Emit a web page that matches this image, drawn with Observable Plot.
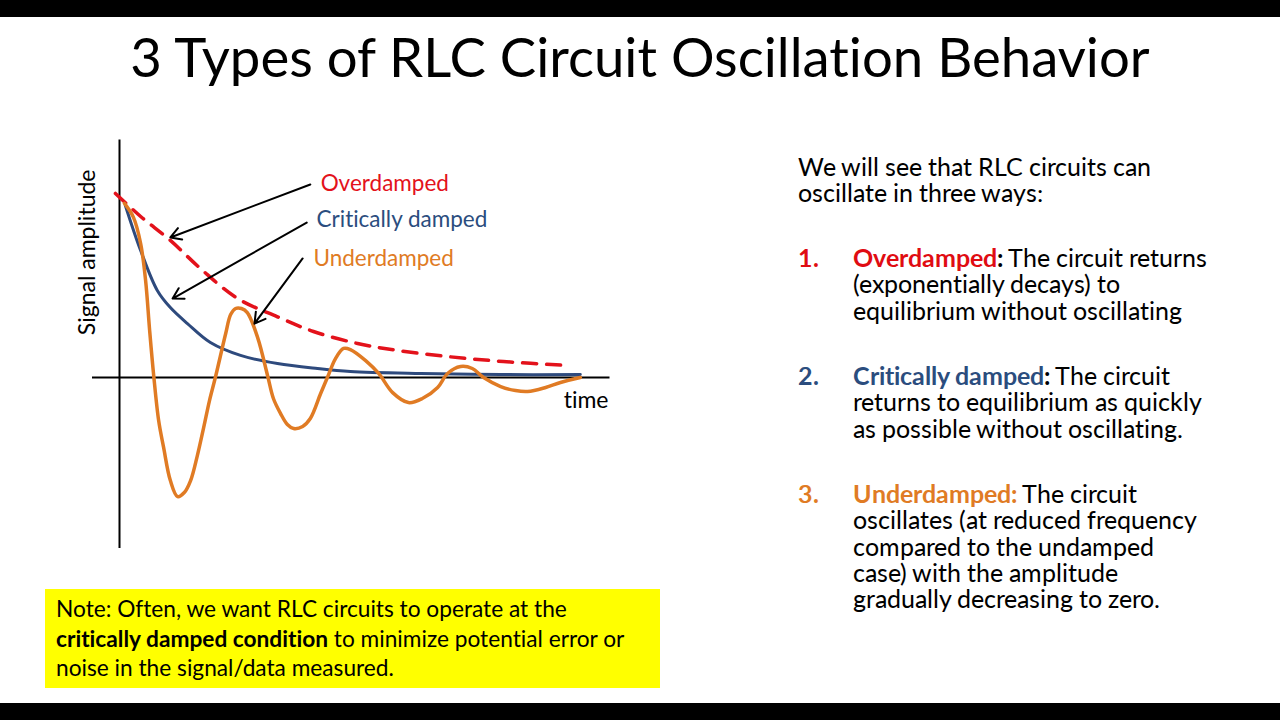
<!DOCTYPE html>
<html>
<head>
<meta charset="utf-8">
<script src="https://cdn.jsdelivr.net/npm/d3@7"></script>
<script src="https://cdn.jsdelivr.net/npm/@observablehq/plot@0.6"></script>
<style>
  @font-face { font-family: "LatoT"; src: local("Lato Regular"), local("Lato-Regular"), local("Lato"); font-weight: 400; ascent-override: 84%; descent-override: 16%; line-gap-override: 0%; }
  @font-face { font-family: "LatoT"; src: local("Lato Bold"), local("Lato-Bold"); font-weight: 700; ascent-override: 84%; descent-override: 16%; line-gap-override: 0%; }
  html, body { margin: 0; padding: 0; background: #fff; }
  body { width: 1280px; height: 720px; position: relative; overflow: hidden; font-family: Lato, "Open Sans", sans-serif; color: #000; font-variant-ligatures: none; }
  .bar { position: absolute; left: 0; width: 1280px; background: #000; }
  #title { position: absolute; left: 0; width: 1280px; top: 26px; line-height: 60px; text-align: center; font-size: 54.5px; }
  #chart { position: absolute; left: 60px; top: 120px; }
  .para, .num { font-family: LatoT, Lato, "Open Sans", sans-serif; }
  .para { position: absolute; font-size: 25px; line-height: 26.3px; white-space: nowrap; }
  .num { position: absolute; font-size: 25px; line-height: 26.3px; font-weight: bold; }
  #note { position: absolute; left: 45px; top: 589px; width: 615px; height: 99px; background: #ffff00; box-sizing: border-box; padding: 5px 0 0 11px; font-size: 22.7px; line-height: 29.5px; white-space: nowrap; }
  svg text { font-variant-ligatures: none; }
</style>
</head>
<body>
<div class="bar" style="top:0;height:17px"></div>
<div class="bar" style="top:703px;height:17px"></div>
<div id="title">3 Types of RLC Circuit Oscillation Behavior</div>
<div id="chart"></div>

<div class="para" style="left:798px;top:155px">We will see that RLC circuits can<br>oscillate in three ways:</div>

<div class="num" style="left:798px;top:246px;color:#e00c12">1.</div>
<div class="para" style="left:853px;top:246px"><b style="color:#e00c12">Overdamped</b><b>:</b> The circuit returns<br>(exponentially decays) to<br>equilibrium without oscillating</div>

<div class="num" style="left:798px;top:364px;color:#2b4d7e">2.</div>
<div class="para" style="left:853px;top:364px"><b style="color:#2b4d7e">Critically damped</b><b>:</b> The circuit<br>returns to equilibrium as quickly<br>as possible without oscillating.</div>

<div class="num" style="left:798px;top:482px;color:#e07b24">3.</div>
<div class="para" style="left:853px;top:482px"><b style="color:#e07b24">Underdamped:</b> The circuit<br>oscillates (at reduced frequency<br>compared to the undamped<br>case) with the amplitude<br>gradually decreasing to zero.</div>

<div id="note">Note: Often, we want RLC circuits to operate at the<br><b>critically damped condition</b> to minimize potential error or<br>noise in the signal/data measured.</div>

<script>
// ---- Data (time in arbitrary units, amplitude normalised) ----
const overT  = [-0.09, 0.47, 1.13, 1.80, 2.62, 3.51, 4.31, 5.29, 6.18, 7.29, 8.53, 9.98];
const overA  = [1.000, 0.875, 0.745, 0.592, 0.430, 0.330, 0.250, 0.185, 0.147, 0.114, 0.087, 0.065];

const critT  = [0.13, 0.47, 0.84, 1.13, 1.51, 2.02, 2.69, 3.51, 4.40, 5.13, 6.69, 8.47, 10.24];
const critA  = [0.935, 0.690, 0.473, 0.380, 0.293, 0.190, 0.120, 0.076, 0.049, 0.033, 0.022, 0.016, 0.016];

const underT = [0.11, 0.31, 0.47, 0.58, 0.67, 0.76, 0.87, 0.98, 1.13, 1.29, 1.44, 1.58, 1.73, 1.87, 2.00, 2.13, 2.36, 2.47, 2.58, 2.71, 2.84, 3.07, 3.29, 3.42, 3.58, 3.73, 3.87, 4.07, 4.24, 4.47, 4.62, 4.80, 4.98, 5.13, 5.47, 5.76, 6.07, 6.42, 6.73, 7.07, 7.29, 7.58, 7.84, 8.09, 8.47, 8.80, 9.07, 9.47, 9.80, 10.24];
const underA = [0.946, 0.870, 0.728, 0.527, 0.255, 0.011, -0.234, -0.380, -0.560, -0.647, -0.625, -0.560, -0.424, -0.272, -0.125, 0.000, 0.239, 0.342, 0.375, 0.375, 0.353, 0.217, 0.011, -0.114, -0.196, -0.255, -0.277, -0.266, -0.223, -0.087, 0.000, 0.103, 0.158, 0.152, 0.092, 0.022, -0.082, -0.136, -0.114, -0.054, 0.022, 0.060, 0.049, 0.000, -0.049, -0.071, -0.076, -0.054, -0.027, 0.000];

// curve labels and their arrows
const labelNames  = ["Overdamped", "Critically damped", "Underdamped"];
const labelColors = ["#e3121b", "#2b4d7e", "#e07b24"];
const labelT      = [4.47, 4.38, 4.31];
const labelA      = [1.054, 0.859, 0.647];
const arrowT1     = [4.24, 4.16, 4.07];
const arrowA1     = [1.049, 0.842, 0.647];
const arrowT2     = [1.13, 1.18, 3.00];
const arrowA2     = [0.761, 0.429, 0.293];

const xLabel = "time";
const yLabel = "Signal amplitude";

// ---- Build tables ----
const over  = overT.map((t, i) => ({t, a: overA[i]}));
const crit  = critT.map((t, i) => ({t, a: critA[i]}));
const under = underT.map((t, i) => ({t, a: underA[i]}));
const labels = labelNames.map((n, i) => ({n, c: labelColors[i], t: labelT[i], a: labelA[i]}));
const arrows = labelNames.map((n, i) => ({x1: arrowT1[i], y1: arrowA1[i], x2: arrowT2[i], y2: arrowA2[i]}));

const chart = Plot.plot({
  width: 580,
  height: 450,
  marginLeft: 32,
  marginRight: 30.5,
  marginTop: 19.6,
  marginBottom: 22,
  x: {domain: [-0.6, 10.9], axis: null},
  y: {domain: [-0.929, 1.29], axis: null},
  style: {fontFamily: "Lato, 'Open Sans', sans-serif", background: "transparent", overflow: "visible"},
  marks: [
    Plot.ruleX([0], {stroke: "#000", strokeWidth: 2}),
    Plot.ruleY([0], {stroke: "#000", strokeWidth: 2}),
    Plot.line(over,  {x: "t", y: "a", stroke: "#e3121b", strokeWidth: 3.5, strokeDasharray: "14,10", curve: "catmull-rom"}),
    Plot.line(crit,  {x: "t", y: "a", stroke: "#2e4a7d", strokeWidth: 3, curve: "catmull-rom"}),
    Plot.line(under, {x: "t", y: "a", stroke: "#e07b24", strokeWidth: 3.5, curve: "catmull-rom"}),
    Plot.arrow(arrows, {x1: "x1", y1: "y1", x2: "x2", y2: "y2", stroke: "#000", strokeWidth: 2, headLength: 9, bend: false}),
    Plot.text(labels, {x: "t", y: "a", text: "n", fill: "c", fontSize: 22.5, textAnchor: "start"}),
    Plot.text([xLabel], {x: 9.87, y: -0.125, text: d => d, fontSize: 23, textAnchor: "start", fill: "#000"}),
    Plot.text([yLabel], {x: -0.71, y: 0.68, text: d => d, fontSize: 23, rotate: -90, fill: "#000"})
  ]
});
document.getElementById("chart").appendChild(chart);
</script>
</body>
</html>
